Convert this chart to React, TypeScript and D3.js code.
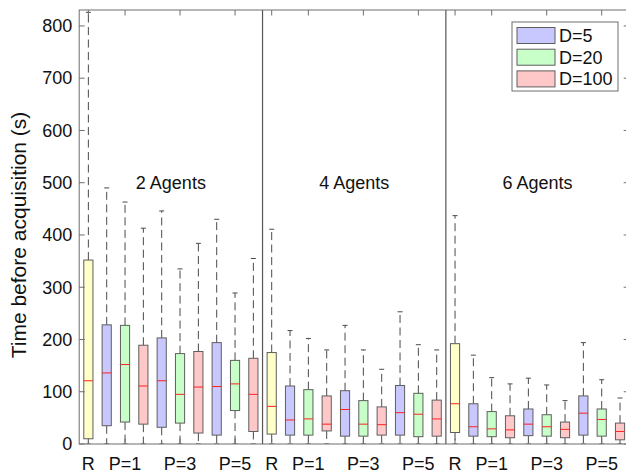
import React from 'react';
import * as d3 from 'd3';

// Box-plot statistics, one entry per box, left to right (30 boxes).
const panels = ['2 Agents', '4 Agents', '6 Agents'];
const boxKinds = [
  'R', 'D=5', 'D=20', 'D=100', 'D=5', 'D=20', 'D=100', 'D=5', 'D=20', 'D=100',
  'R', 'D=5', 'D=20', 'D=100', 'D=5', 'D=20', 'D=100', 'D=5', 'D=20', 'D=100',
  'R', 'D=5', 'D=20', 'D=100', 'D=5', 'D=20', 'D=100', 'D=5', 'D=20', 'D=100',
];
const whiskerLow = [
  0, 0, 0, 0, 0, 0, 0, 0, 0, 0,
  0, 0, 0, 0, 0, 0, 0, 0, 0, 0,
  0, 0, 0, 0, 0, 0, 0, 0, 0, 0,
];
const q1 = [
  10, 35, 42, 38, 32, 40, 21, 17, 64, 24,
  19, 17, 17, 25, 15, 15, 17, 17, 14, 15,
  22, 15, 14, 12, 16, 15, 12, 17, 15, 8,
];
const median = [
  121, 136, 152, 111, 121, 95, 109, 110, 115, 95,
  72, 46, 48, 38, 66, 38, 37, 60, 57, 48,
  77, 33, 29, 27, 38, 33, 28, 59, 47, 24,
];
const q3 = [
  352, 228, 227, 189, 203, 173, 177, 194, 160, 164,
  175, 111, 104, 92, 102, 83, 71, 112, 97, 84,
  192, 77, 62, 54, 67, 56, 42, 92, 67, 40,
];
const whiskerHigh = [
  826, 490, 463, 413, 446, 335, 384, 430, 289, 355,
  411, 217, 202, 180, 227, 180, 143, 253, 190, 180,
  437, 170, 127, 115, 126, 113, 83, 194, 123, 88,
];

const xTickPositions = [1, 3, 6, 9, 11, 13, 16, 19, 21, 23, 26, 29];
const xTickLabels = ['R', 'P=1', 'P=3', 'P=5', 'R', 'P=1', 'P=3', 'P=5', 'R', 'P=1', 'P=3', 'P=5'];
const yTicks = [0, 100, 200, 300, 400, 500, 600, 700, 800];
const legendItems = ['D=5', 'D=20', 'D=100'];

const fills: Record<string, string> = {
  R: '#ffffc8',
  'D=5': '#c8c8ff',
  'D=20': '#c8ffc8',
  'D=100': '#ffc8c8',
};

const W = 626;
const H = 474;
const left = 79.2;
const right = 629.2;
const top = 10;
const bottom = 444;
const font = '"Liberation Sans", Arial, Helvetica, sans-serif';

export default function App() {
  const x = d3.scaleLinear().domain([0.5, 30.5]).range([left, right]);
  const y = d3.scaleLinear().domain([0, 830.5]).range([bottom, top]);
  const step = x(2) - x(1);
  const boxW = step * 0.5;
  const capW = 5;
  const tickLen = 5.5;
  const frame = '#6e6e6e';
  const whisk = '#4a4a4a';

  return (
    <svg
      width={W}
      height={H}
      style={{ position: 'absolute', left: 0, top: 0, background: '#fff' }}
      fontFamily={font}
    >
      <defs>
        <clipPath id="plotClip">
          <rect x={left} y={top} width={right - left} height={bottom - top} />
        </clipPath>
      </defs>

      {/* boxes */}
      <g clipPath="url(#plotClip)">
        {q1.map((_, i) => {
          const cx = x(i + 1);
          return (
            <g key={i}>
              <line x1={cx} x2={cx} y1={y(q3[i])} y2={y(whiskerHigh[i])} stroke={whisk} strokeWidth={1} strokeDasharray="8,4.5" />
              <line x1={cx} x2={cx} y1={y(q1[i])} y2={y(whiskerLow[i])} stroke={whisk} strokeWidth={1} strokeDasharray="8,4.5" />
              <line x1={cx - capW / 2} x2={cx + capW / 2} y1={y(whiskerHigh[i])} y2={y(whiskerHigh[i])} stroke={whisk} strokeWidth={1} />
              <line x1={cx - capW / 2} x2={cx + capW / 2} y1={y(whiskerLow[i])} y2={y(whiskerLow[i])} stroke={whisk} strokeWidth={1} />
              <rect
                x={cx - boxW / 2}
                y={y(q3[i])}
                width={boxW}
                height={y(q1[i]) - y(q3[i])}
                fill={fills[boxKinds[i]]}
                stroke="#5e5e5e"
                strokeWidth={1}
              />
              <line x1={cx - boxW / 2} x2={cx + boxW / 2} y1={y(median[i])} y2={y(median[i])} stroke="#ff2020" strokeWidth={1} />
            </g>
          );
        })}
      </g>

      {/* panel separators */}
      {[10.5, 20.5].map((p) => (
        <line key={p} x1={x(p)} x2={x(p)} y1={top} y2={bottom} stroke="#555" strokeWidth={1.2} />
      ))}

      {/* panel titles */}
      {panels.map((t, i) => (
        <text key={t} x={x(5.5 + i * 10)} y={y(500)} dy="0.35em" textAnchor="middle" fontSize={18} fill="#111">
          {t}
        </text>
      ))}

      {/* axes frame */}
      <rect x={left} y={top} width={right - left} height={bottom - top} fill="none" stroke={frame} strokeWidth={1} />
      {yTicks.map((t) => (
        <g key={t}>
          <line x1={left} x2={left + tickLen} y1={y(t)} y2={y(t)} stroke={frame} />
          <line x1={right} x2={right - tickLen} y1={y(t)} y2={y(t)} stroke={frame} />
          <text x={left - 7} y={y(t)} dy="0.35em" textAnchor="end" fontSize={18} fill="#111">
            {t}
          </text>
        </g>
      ))}
      {xTickPositions.map((p, i) => (
        <g key={i}>
          <line x1={x(p)} x2={x(p)} y1={top} y2={top + tickLen} stroke={frame} />
          <line x1={x(p)} x2={x(p)} y1={bottom} y2={bottom - tickLen} stroke={frame} />
          <text x={x(p)} y={470} textAnchor="middle" fontSize={18} fill="#111">
            {xTickLabels[i]}
          </text>
        </g>
      ))}

      {/* y-axis title */}
      <text
        transform={`translate(26, ${235}) rotate(-90)`}
        textAnchor="middle"
        fontSize={21}
        fill="#111"
      >
        Time before acquisition (s)
      </text>

      {/* legend */}
      <g>
        <rect x={512} y={22} width={106} height={69} fill="#fff" stroke={frame} strokeWidth={1} />
        {legendItems.map((k, i) => (
          <g key={k}>
            <rect x={517} y={27.5 + i * 21.7} width={38} height={16} fill={fills[k]} stroke="#5e5e5e" strokeWidth={1} />
            <text x={559} y={35.5 + i * 21.7} dy="0.35em" fontSize={18} fill="#111">
              {k}
            </text>
          </g>
        ))}
      </g>
    </svg>
  );
}
